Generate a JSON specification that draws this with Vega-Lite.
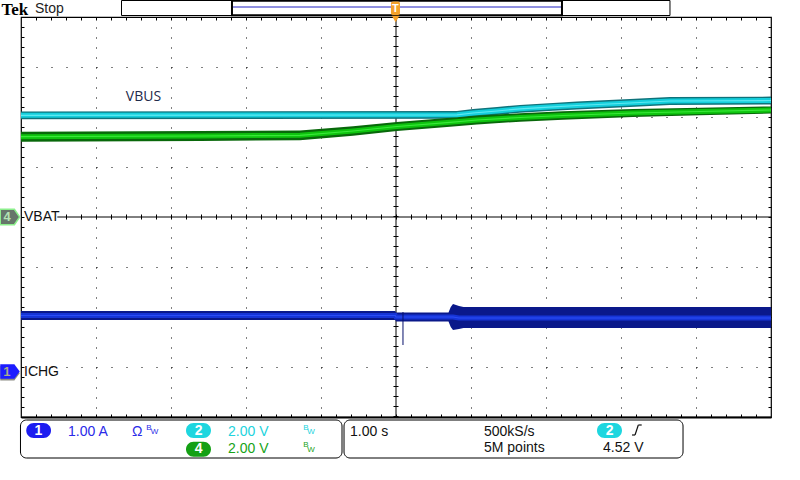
{
  "$schema": "https://vega.github.io/schema/vega-lite/v6.json",
  "width": 750,
  "height": 400,
  "autosize": {"type": "none"},
  "padding": {"left": 21, "top": 17, "right": 29, "bottom": 63},
  "background": "white",
  "config": {"view": {"stroke": "black", "strokeWidth": 1.2}},
  "data": {"values": [{}]},
  "datasets": {
    "traces": [
      {"ch": "VBUS", "t": -5, "lo": 1.956, "c": 2.034, "hi": 2.112},
      {"ch": "VBUS", "t": 0.813, "lo": 1.966, "c": 2.044, "hi": 2.122},
      {"ch": "VBUS", "t": 1.027, "lo": 2.002, "c": 2.08, "hi": 2.158},
      {"ch": "VBUS", "t": 1.347, "lo": 2.042, "c": 2.12, "hi": 2.198},
      {"ch": "VBUS", "t": 1.653, "lo": 2.086, "c": 2.164, "hi": 2.242},
      {"ch": "VBUS", "t": 2.093, "lo": 2.126, "c": 2.204, "hi": 2.282},
      {"ch": "VBUS", "t": 2.413, "lo": 2.152, "c": 2.23, "hi": 2.308},
      {"ch": "VBUS", "t": 3.12, "lo": 2.202, "c": 2.28, "hi": 2.358},
      {"ch": "VBUS", "t": 3.653, "lo": 2.242, "c": 2.32, "hi": 2.398},
      {"ch": "VBUS", "t": 5, "lo": 2.252, "c": 2.33, "hi": 2.408},
      {"ch": "VBAT", "t": -5, "lo": 1.506, "c": 1.606, "hi": 1.706},
      {"ch": "VBAT", "t": -2.613, "lo": 1.52, "c": 1.62, "hi": 1.72},
      {"ch": "VBAT", "t": -1.28, "lo": 1.537, "c": 1.634, "hi": 1.731},
      {"ch": "VBAT", "t": -0.573, "lo": 1.626, "c": 1.72, "hi": 1.814},
      {"ch": "VBAT", "t": 0.013, "lo": 1.718, "c": 1.81, "hi": 1.902},
      {"ch": "VBAT", "t": 0.72, "lo": 1.804, "c": 1.894, "hi": 1.984},
      {"ch": "VBAT", "t": 1.08, "lo": 1.852, "c": 1.94, "hi": 2.028},
      {"ch": "VBAT", "t": 1.653, "lo": 1.905, "c": 1.99, "hi": 2.075},
      {"ch": "VBAT", "t": 2.227, "lo": 1.947, "c": 2.03, "hi": 2.113},
      {"ch": "VBAT", "t": 3.16, "lo": 2.0, "c": 2.08, "hi": 2.16},
      {"ch": "VBAT", "t": 4.053, "lo": 2.034, "c": 2.11, "hi": 2.186},
      {"ch": "VBAT", "t": 5, "lo": 2.068, "c": 2.14, "hi": 2.212},
      {"ch": "ICHG", "t": -5, "lo": -2.06, "c": -1.97, "hi": -1.88},
      {"ch": "ICHG", "t": -0.01, "lo": -2.06, "c": -1.97, "hi": -1.88},
      {"ch": "ICHG", "t": 0.0, "lo": -2.09, "c": -2.0, "hi": -1.91},
      {"ch": "ICHG", "t": 0.7, "lo": -2.09, "c": -2.0, "hi": -1.91},
      {"ch": "ICHG", "t": 0.73, "lo": -2.2, "c": -2.0, "hi": -1.8},
      {"ch": "ICHG", "t": 0.76, "lo": -2.26, "c": -2.0, "hi": -1.74},
      {"ch": "ICHG", "t": 0.84, "lo": -2.24, "c": -2.02, "hi": -1.78},
      {"ch": "ICHG", "t": 0.9, "lo": -2.22, "c": -2.02, "hi": -1.8},
      {"ch": "ICHG", "t": 5, "lo": -2.22, "c": -2.02, "hi": -1.8}
    ],
    "spikes": [
      {"ch": "ICHG", "t": 0.093, "lo": -2.56, "hi": -1.9}
    ]
  },
  "resolve": {
    "scale": {"color": "independent"},
    "axis": {"x": "independent", "y": "independent"}
  },
  "layer": [
    {
      "mark": {"type": "rule", "color": "black", "strokeWidth": 1},
      "encoding": {
        "x": {"datum": 0, "type": "quantitative",
          "scale": {"domain": [-5, 5], "nice": false, "zero": false},
          "axis": {"orient": "bottom", "values": [-4, -3, -2, -1, 1, 2, 3, 4], "grid": true, "gridDash": [1, 9], "gridColor": "black", "gridOpacity": 1, "gridWidth": 1, "ticks": false, "labels": false, "domain": false, "title": null}},
        "y": {"datum": -4, "type": "quantitative",
          "scale": {"domain": [-4, 4], "nice": false, "zero": false},
          "axis": {"orient": "left", "values": [-3, -2, -1, 1, 2, 3], "grid": true, "gridDash": [1, 14], "gridColor": "black", "gridOpacity": 1, "gridWidth": 1, "ticks": false, "labels": false, "domain": false, "title": null}},
        "y2": {"datum": 4}
      }
    },
    {
      "mark": {"type": "rule", "color": "black", "strokeWidth": 5, "strokeDash": [1, 9]},
      "encoding": {
        "x": {"datum": 0, "type": "quantitative",
          "axis": {"orient": "top", "values": [-4.8,-4.6,-4.4,-4.2,-4,-3.8,-3.6,-3.4,-3.2,-3,-2.8,-2.6,-2.4,-2.2,-2,-1.8,-1.6,-1.4,-1.2,-1,-0.8,-0.6,-0.4,-0.2,0,0.2,0.4,0.6,0.8,1,1.2,1.4,1.6,1.8,2,2.2,2.4,2.6,2.8,3,3.2,3.4,3.6,3.8,4,4.2,4.4,4.6,4.8], "grid": false, "ticks": true, "tickSize": -3, "tickColor": "black", "tickWidth": 1, "labels": false, "domain": false, "title": null}},
        "y": {"datum": -4, "type": "quantitative",
          "axis": {"orient": "right", "values": [-3.8,-3.6,-3.4,-3.2,-3,-2.8,-2.6,-2.4,-2.2,-2,-1.8,-1.6,-1.4,-1.2,-1,-0.8,-0.6,-0.4,-0.2,0,0.2,0.4,0.6,0.8,1,1.2,1.4,1.6,1.8,2,2.2,2.4,2.6,2.8,3,3.2,3.4,3.6,3.8], "grid": false, "ticks": true, "tickSize": -3, "tickColor": "black", "tickWidth": 1, "labels": false, "domain": false, "title": null}},
        "y2": {"datum": 4}
      }
    },
    {
      "mark": {"type": "rule", "color": "black", "strokeWidth": 1},
      "encoding": {
        "x": {"datum": -4.516, "type": "quantitative",
          "axis": {"orient": "bottom", "values": [-4.8,-4.6,-4.4,-4.2,-4,-3.8,-3.6,-3.4,-3.2,-3,-2.8,-2.6,-2.4,-2.2,-2,-1.8,-1.6,-1.4,-1.2,-1,-0.8,-0.6,-0.4,-0.2,0,0.2,0.4,0.6,0.8,1,1.2,1.4,1.6,1.8,2,2.2,2.4,2.6,2.8,3,3.2,3.4,3.6,3.8,4,4.2,4.4,4.6,4.8], "grid": false, "ticks": true, "tickSize": -3, "tickColor": "black", "tickWidth": 1, "labels": false, "domain": true, "domainColor": "black", "domainWidth": 2.2, "title": null}},
        "x2": {"datum": 5},
        "y": {"datum": 0, "type": "quantitative",
          "axis": {"orient": "left", "values": [-3.8,-3.6,-3.4,-3.2,-3,-2.8,-2.6,-2.4,-2.2,-2,-1.8,-1.6,-1.4,-1.2,-1,-0.8,-0.6,-0.4,-0.2,0,0.2,0.4,0.6,0.8,1,1.2,1.4,1.6,1.8,2,2.2,2.4,2.6,2.8,3,3.2,3.4,3.6,3.8], "grid": false, "ticks": true, "tickSize": -3, "tickColor": "black", "tickWidth": 1, "labels": false, "domain": false, "title": null}}
      }
    },
    {
      "mark": {"type": "rule", "color": "black", "strokeWidth": 5, "strokeDash": [1, 14]},
      "encoding": {
        "x": {"datum": -4.4, "type": "quantitative", "axis": null},
        "x2": {"datum": 5},
        "y": {"datum": 0, "type": "quantitative", "axis": null}
      }
    },
    {
      "data": {"name": "traces"},
      "mark": {"type": "area", "opacity": 1},
      "encoding": {
        "x": {"field": "t", "type": "quantitative", "axis": null},
        "y": {"field": "lo", "type": "quantitative", "axis": null, "stack": null},
        "y2": {"field": "hi"},
        "color": {"field": "ch", "type": "nominal", "legend": null,
          "scale": {"domain": ["VBUS", "VBAT", "ICHG"], "range": ["#0e737b", "#08680a", "#0a188a"]}}
      }
    },
    {
      "data": {"name": "traces"},
      "mark": {"type": "line", "strokeWidth": 5},
      "encoding": {
        "x": {"field": "t", "type": "quantitative", "axis": null},
        "y": {"field": "c", "type": "quantitative", "axis": null},
        "color": {"field": "ch", "type": "nominal", "legend": null,
          "scale": {"domain": ["VBUS", "VBAT", "ICHG"], "range": ["#14cfdc", "#0ec40e", "#1634d6"]}}
      }
    },
    {
      "data": {"name": "traces"},
      "mark": {"type": "line", "strokeWidth": 1.2},
      "encoding": {
        "x": {"field": "t", "type": "quantitative", "axis": null},
        "y": {"field": "c", "type": "quantitative", "axis": null},
        "color": {"field": "ch", "type": "nominal", "legend": null,
          "scale": {"domain": ["VBUS", "VBAT", "ICHG"], "range": ["#5ee9f2", "#3ae83a", "#2a4cf5"]}}
      }
    },
    {
      "data": {"name": "spikes"},
      "mark": {"type": "rule", "color": "#06106a", "strokeWidth": 1},
      "encoding": {
        "x": {"field": "t", "type": "quantitative", "axis": null},
        "y": {"field": "lo", "type": "quantitative", "axis": null},
        "y2": {"field": "hi"}
      }
    },
    {
      "mark": {"type": "text", "text": "VBUS", "font": "Open Sans", "fontSize": 14, "color": "#1e2a4a", "align": "center", "baseline": "middle"},
      "encoding": {"x": {"datum": -3.367, "axis": null}, "y": {"datum": 2.4, "axis": null}}
    },
    {
      "mark": {"type": "text", "text": "VBAT", "font": "Liberation Sans", "fontSize": 14, "color": "#111111", "align": "left", "baseline": "middle"},
      "encoding": {"x": {"datum": -4.96, "axis": null}, "y": {"datum": 0, "axis": null}}
    },
    {
      "mark": {"type": "text", "text": "ICHG", "font": "Liberation Sans", "fontSize": 14, "color": "#111111", "align": "left", "baseline": "middle"},
      "encoding": {"x": {"datum": -4.96, "axis": null}, "y": {"datum": -3.09, "axis": null}}
    },
    {
      "mark": {"type": "point", "shape": "M-1,-0.8L0.45,-0.8L1,0L0.45,0.8L-1,0.8Z", "size": 380, "filled": true, "fill": "#66766a", "stroke": "#8cef8c", "strokeWidth": 1.5, "opacity": 1},
      "encoding": {"x": {"datum": -5.147, "axis": null}, "y": {"datum": 0, "axis": null}}
    },
    {
      "mark": {"type": "text", "text": "4", "font": "Liberation Sans", "fontWeight": "bold", "fontSize": 13, "color": "#b4e4b4", "align": "center", "baseline": "middle"},
      "encoding": {"x": {"datum": -5.184, "axis": null}, "y": {"datum": 0, "axis": null}}
    },
    {
      "mark": {"type": "point", "shape": "M-1,-0.75L0.45,-0.75L1,0L0.45,0.75L-1,0.75Z", "size": 380, "filled": true, "fill": "#8c8c84", "opacity": 1},
      "encoding": {"x": {"datum": -5.147, "axis": null}, "y": {"datum": -3.125, "axis": null}}
    },
    {
      "mark": {"type": "point", "shape": "M-1,-0.75L0.45,-0.75L1,0L0.45,0.75L-1,0.75Z", "size": 380, "filled": true, "fill": "#1c1cff", "opacity": 1},
      "encoding": {"x": {"datum": -5.147, "axis": null}, "y": {"datum": -3.09, "axis": null}}
    },
    {
      "mark": {"type": "text", "text": "1", "font": "Liberation Sans", "fontWeight": "bold", "fontSize": 13, "color": "#a9a98f", "align": "center", "baseline": "middle"},
      "encoding": {"x": {"datum": -5.187, "axis": null}, "y": {"datum": -3.09, "axis": null}}
    },
    {
      "mark": {"type": "text", "text": "Tek", "font": "Liberation Serif", "fontWeight": "bold", "fontSize": 17, "color": "black", "align": "left", "baseline": "alphabetic"},
      "encoding": {"x": {"datum": -5.26, "axis": null}, "y": {"datum": 4.04, "axis": null}}
    },
    {
      "mark": {"type": "text", "text": "Stop", "font": "Liberation Sans", "fontSize": 14, "color": "#222222", "align": "left", "baseline": "alphabetic"},
      "encoding": {"x": {"datum": -4.813, "axis": null}, "y": {"datum": 4.08, "axis": null}}
    },
    {
      "mark": {"type": "rect", "fill": "white", "stroke": "black", "strokeWidth": 1},
      "encoding": {"x": {"datum": -3.66, "axis": null}, "x2": {"datum": 3.653}, "y": {"datum": 4.33, "axis": null}, "y2": {"datum": 4.03}}
    },
    {
      "mark": {"type": "rect", "fill": "white", "stroke": "black", "strokeWidth": 2},
      "encoding": {"x": {"datum": -2.187, "axis": null}, "x2": {"datum": 2.213}, "y": {"datum": 4.324, "axis": null}, "y2": {"datum": 4.036}}
    },
    {
      "mark": {"type": "rule", "color": "#2020c0", "strokeWidth": 1},
      "encoding": {"x": {"datum": -2.173, "axis": null}, "x2": {"datum": 2.2}, "y": {"datum": 4.2, "axis": null}}
    },
    {
      "mark": {"type": "rect", "fill": "#f4a12a", "cornerRadius": 2},
      "encoding": {"x": {"datum": -0.067, "axis": null}, "x2": {"datum": 0.053}, "y": {"datum": 4.31, "axis": null}, "y2": {"datum": 4.04}}
    },
    {
      "mark": {"type": "text", "text": "T", "font": "Liberation Sans", "fontWeight": "bold", "fontSize": 11, "color": "white", "align": "center", "baseline": "middle"},
      "encoding": {"x": {"datum": -0.007, "axis": null}, "y": {"datum": 4.17, "axis": null}}
    },
    {
      "mark": {"type": "point", "shape": "triangle-down", "size": 60, "filled": true, "fill": "#f4a12a", "opacity": 1},
      "encoding": {"x": {"datum": -0.005, "axis": null}, "y": {"datum": 3.96, "axis": null}}
    },
    {
      "mark": {"type": "rect", "fill": "white", "stroke": "black", "strokeWidth": 1, "cornerRadius": 6},
      "encoding": {"x": {"datum": -5.007, "axis": null}, "x2": {"datum": -0.72}, "y": {"datum": -4.06, "axis": null}, "y2": {"datum": -4.82}}
    },
    {
      "mark": {"type": "rect", "fill": "white", "stroke": "black", "strokeWidth": 1, "cornerRadius": 6},
      "encoding": {"x": {"datum": -0.693, "axis": null}, "x2": {"datum": 3.827}, "y": {"datum": -4.06, "axis": null}, "y2": {"datum": -4.82}}
    },
    {
      "mark": {"type": "rect", "fill": "#1c1cf0", "cornerRadius": 7.5},
      "encoding": {"x": {"datum": -4.93, "axis": null}, "x2": {"datum": -4.6}, "y": {"datum": -4.12, "axis": null}, "y2": {"datum": -4.42}}
    },
    {
      "mark": {"type": "text", "text": "1", "font": "Liberation Sans", "fontWeight": "bold", "fontSize": 14, "color": "white", "align": "center", "baseline": "middle"},
      "encoding": {"x": {"datum": -4.767, "axis": null}, "y": {"datum": -4.27, "axis": null}}
    },
    {
      "mark": {"type": "text", "text": "1.00 A", "font": "Liberation Sans", "fontSize": 14, "color": "#2a2ae8", "align": "left", "baseline": "middle"},
      "encoding": {"x": {"datum": -4.373, "axis": null}, "y": {"datum": -4.29, "axis": null}}
    },
    {
      "mark": {"type": "text", "text": "Ω", "font": "Liberation Sans", "fontSize": 14, "color": "#2a2ae8", "align": "left", "baseline": "middle"},
      "encoding": {"x": {"datum": -3.52, "axis": null}, "y": {"datum": -4.29, "axis": null}}
    },
    {
      "mark": {"type": "text", "text": "B", "font": "Liberation Sans", "fontSize": 8, "color": "#2a2ae8", "align": "left", "baseline": "middle"},
      "encoding": {"x": {"datum": -3.329, "axis": null}, "y": {"datum": -4.22, "axis": null}}
    },
    {
      "mark": {"type": "text", "text": "W", "font": "Liberation Sans", "fontSize": 8, "color": "#2a2ae8", "align": "left", "baseline": "middle"},
      "encoding": {"x": {"datum": -3.27, "axis": null}, "y": {"datum": -4.306, "axis": null}}
    },
    {
      "mark": {"type": "rect", "fill": "#1ed6df", "cornerRadius": 7.5},
      "encoding": {"x": {"datum": -2.8, "axis": null}, "x2": {"datum": -2.467}, "y": {"datum": -4.12, "axis": null}, "y2": {"datum": -4.42}}
    },
    {
      "mark": {"type": "text", "text": "2", "font": "Liberation Sans", "fontWeight": "bold", "fontSize": 14, "color": "white", "align": "center", "baseline": "middle"},
      "encoding": {"x": {"datum": -2.633, "axis": null}, "y": {"datum": -4.27, "axis": null}}
    },
    {
      "mark": {"type": "text", "text": "2.00 V", "font": "Liberation Sans", "fontSize": 14, "color": "#22d3dd", "align": "left", "baseline": "middle"},
      "encoding": {"x": {"datum": -2.24, "axis": null}, "y": {"datum": -4.29, "axis": null}}
    },
    {
      "mark": {"type": "text", "text": "B", "font": "Liberation Sans", "fontSize": 8, "color": "#22d3dd", "align": "left", "baseline": "middle"},
      "encoding": {"x": {"datum": -1.236, "axis": null}, "y": {"datum": -4.22, "axis": null}}
    },
    {
      "mark": {"type": "text", "text": "W", "font": "Liberation Sans", "fontSize": 8, "color": "#22d3dd", "align": "left", "baseline": "middle"},
      "encoding": {"x": {"datum": -1.183, "axis": null}, "y": {"datum": -4.306, "axis": null}}
    },
    {
      "mark": {"type": "rect", "fill": "#14a014", "cornerRadius": 7.5},
      "encoding": {"x": {"datum": -2.8, "axis": null}, "x2": {"datum": -2.467}, "y": {"datum": -4.494, "axis": null}, "y2": {"datum": -4.794}}
    },
    {
      "mark": {"type": "text", "text": "4", "font": "Liberation Sans", "fontWeight": "bold", "fontSize": 14, "color": "white", "align": "center", "baseline": "middle"},
      "encoding": {"x": {"datum": -2.633, "axis": null}, "y": {"datum": -4.644, "axis": null}}
    },
    {
      "mark": {"type": "text", "text": "2.00 V", "font": "Liberation Sans", "fontSize": 14, "color": "#18a318", "align": "left", "baseline": "middle"},
      "encoding": {"x": {"datum": -2.24, "axis": null}, "y": {"datum": -4.63, "axis": null}}
    },
    {
      "mark": {"type": "text", "text": "B", "font": "Liberation Sans", "fontSize": 8, "color": "#18a318", "align": "left", "baseline": "middle"},
      "encoding": {"x": {"datum": -1.236, "axis": null}, "y": {"datum": -4.564, "axis": null}}
    },
    {
      "mark": {"type": "text", "text": "W", "font": "Liberation Sans", "fontSize": 8, "color": "#18a318", "align": "left", "baseline": "middle"},
      "encoding": {"x": {"datum": -1.183, "axis": null}, "y": {"datum": -4.654, "axis": null}}
    },
    {
      "mark": {"type": "text", "text": "1.00 s", "font": "Liberation Sans", "fontSize": 14, "color": "#111111", "align": "left", "baseline": "middle"},
      "encoding": {"x": {"datum": -0.613, "axis": null}, "y": {"datum": -4.29, "axis": null}}
    },
    {
      "mark": {"type": "text", "text": "500kS/s", "font": "Liberation Sans", "fontSize": 14, "color": "#111111", "align": "left", "baseline": "middle"},
      "encoding": {"x": {"datum": 1.173, "axis": null}, "y": {"datum": -4.29, "axis": null}}
    },
    {
      "mark": {"type": "text", "text": "5M points", "font": "Liberation Sans", "fontSize": 14, "color": "#111111", "align": "left", "baseline": "middle"},
      "encoding": {"x": {"datum": 1.173, "axis": null}, "y": {"datum": -4.62, "axis": null}}
    },
    {
      "mark": {"type": "rect", "fill": "#1ed6df", "cornerRadius": 7.5},
      "encoding": {"x": {"datum": 2.68, "axis": null}, "x2": {"datum": 3.013}, "y": {"datum": -4.12, "axis": null}, "y2": {"datum": -4.42}}
    },
    {
      "mark": {"type": "text", "text": "2", "font": "Liberation Sans", "fontWeight": "bold", "fontSize": 14, "color": "white", "align": "center", "baseline": "middle"},
      "encoding": {"x": {"datum": 2.847, "axis": null}, "y": {"datum": -4.27, "axis": null}}
    },
    {
      "mark": {"type": "rule", "color": "#111111", "strokeWidth": 1.2},
      "encoding": {"x": {"datum": 3.147, "axis": null}, "x2": {"datum": 3.187}, "y": {"datum": -4.36, "axis": null}, "y2": {"datum": -4.36}}
    },
    {
      "mark": {"type": "rule", "color": "#111111", "strokeWidth": 1.2},
      "encoding": {"x": {"datum": 3.187, "axis": null}, "x2": {"datum": 3.231}, "y": {"datum": -4.36, "axis": null}, "y2": {"datum": -4.16}}
    },
    {
      "mark": {"type": "rule", "color": "#111111", "strokeWidth": 1.2},
      "encoding": {"x": {"datum": 3.231, "axis": null}, "x2": {"datum": 3.276}, "y": {"datum": -4.16, "axis": null}, "y2": {"datum": -4.16}}
    },
    {
      "mark": {"type": "text", "text": "4.52 V", "font": "Liberation Sans", "fontSize": 14, "color": "#111111", "align": "left", "baseline": "middle"},
      "encoding": {"x": {"datum": 2.76, "axis": null}, "y": {"datum": -4.62, "axis": null}}
    }
  ]
}
